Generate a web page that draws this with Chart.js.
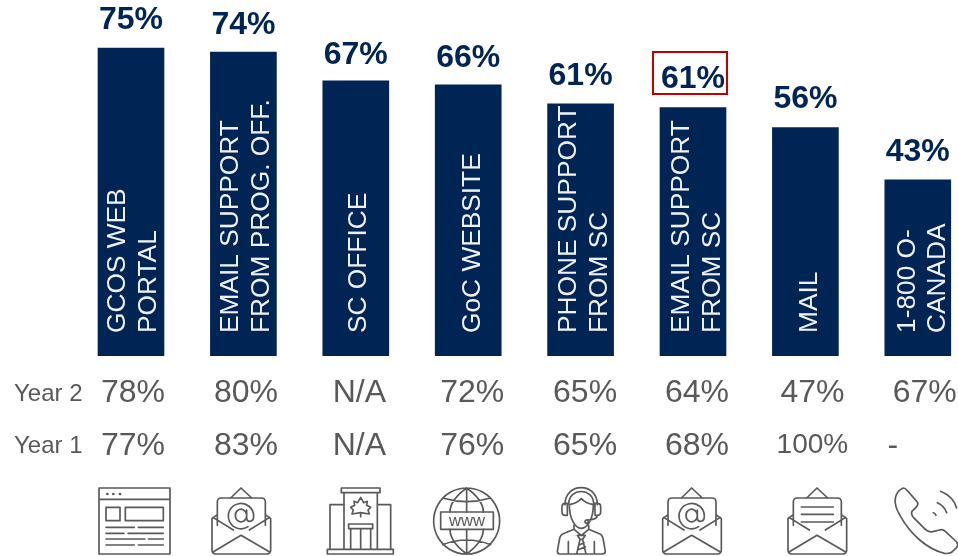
<!DOCTYPE html>
<html lang="en">
<head>
  <meta charset="UTF-8">
  <title>Satisfaction by service channel</title>
  <script src="https://cdn.jsdelivr.net/npm/chart.js"></script>
  <style>
    html, body { margin: 0; padding: 0; background: #fff; overflow: hidden; width: 958px; height: 556px; }
    canvas { display: block; }
  </style>
</head>
<body>
<canvas id="myChart" width="1000" height="556"></canvas>

<script>
const categories = [
  ['GCOS WEB', 'PORTAL'],
  ['EMAIL SUPPORT', 'FROM PROG. OFF.'],
  ['SC OFFICE'],
  ['GoC WEBSITE'],
  ['PHONE SUPPORT', 'FROM SC'],
  ['EMAIL SUPPORT', 'FROM SC'],
  ['MAIL'],
  ['1-800 O-', 'CANADA']
];
const year3Values = [75, 74, 67, 66, 61.4, 60.5, 55.6, 42.9];
const year3Labels = ['75%', '74%', '67%', '66%', '61%', '61%', '56%', '43%'];
const year2Labels = ['78%', '80%', 'N/A', '72%', '65%', '64%', '47%', '67%'];
const year1Labels = ['77%', '83%', 'N/A', '76%', '65%', '68%', '100%', '-'];
const rowNames = ['Year 2', 'Year 1'];

const NAVY = '#002554';
const GREY = '#595959';
const FONT = '"Liberation Sans", Arial, sans-serif';

// icons are traced in 3x units, so they get drawn with a 1/3 scale
const envelope = 'M56 30 L87 0 L119 30 M16 80 L0 92 L0 186 Q0 198 12 198 L164 198 Q176 198 176 186 L176 92 L160 80 ' +
  'M16 112 L16 42 Q16 30 28 30 L148 30 Q160 30 160 42 L160 112 M3 88 L64 126 M173 88 L112 126 ' +
  'M3 192 L87 142 L173 192';
const atSign = 'M108 116 A38 38 0 1 1 125 84 Q125 100 113 100 Q104 100 104 90 L104 66 ' +
  'M104 81 A17 19 0 1 1 103.9 80';
const browser = 'M297 54 H510 V252 H297 Z M297 88 H510 M318 112 H360 V152 H318 Z M376 112 H490 V152 H376 Z ' +
  'M318 172 H403 M415 172 H490 M318 190 H372 M384 190 H490 M318 207 H435 M445 207 H490 M318 225 H403 M415 225 H490';
const building = 'M982 238 H1180 V252 H982 Z M1024 54 H1140 V68 H1024 Z M1032 68 V238 M1132 68 V238 ' +
  'M1032 104 H990 V238 M1132 104 H1172 V238 M1046 162 H1118 V176 H1046 Z M1052 176 V238 M1082 176 V238 M1112 176 V238 ' +
  'M1082 140 V128 L1056 132 L1060 120 L1052 112 L1064 106 L1062 94 L1073 98 L1082 82 L1091 98 L1102 94 L1100 106 L1112 112 L1104 120 L1108 132 L1082 128';
const globe = 'M1400 54 A99 99 0 1 1 1399.9 54 M1400 54 V126 M1400 178 V252 M1400 54 Q1350 90 1350 126 M1400 54 Q1450 90 1450 126 ' +
  'M1350 178 Q1350 216 1400 252 M1450 178 Q1450 216 1400 252 M1328 84 Q1400 106 1472 84 M1328 224 Q1400 196 1472 224';
const globeBox = [1322, 126, 158, 52];
const agent = 'M255 104 C255 36 352 36 352 104 M266 102 C266 52 341 52 341 102 M246 110 Q246 100 256 100 L262 100 L262 136 L256 136 Q246 136 246 126 Z ' +
  'M345 100 L352 100 Q362 100 362 110 L362 126 Q362 136 352 136 L345 136 Z M268 104 C280 102 295 96 304 86 C313 96 328 102 340 104 ' +
  'M268 104 C268 145 285 175 304 175 C323 175 340 145 340 104 M352 136 Q352 150 320 150 M320 150 A5 5 0 1 1 319.9 150 ' +
  'M282 166 L282 178 L304 196 L326 178 L326 166 M282 178 L248 192 Q240 196 238 210 L232 244 Q232 252 240 252 L368 252 Q376 252 376 244 L370 210 Q368 196 360 192 L326 178 ' +
  'M265 215 V252 M343 215 V252 M292 196 L316 196 L308 208 L300 208 Z M300 208 L290 252 M308 208 L318 252 M296 226 L312 218 M293 240 L316 230';
const letterLines = 'M964 111 H1060 M964 133 H1060 M964 156 H1060';
const phone = 'M1246 84 Q1250 62 1270 54 Q1276 54 1282 62 L1312 96 Q1316 102 1310 110 L1296 124 Q1292 132 1300 142 L1330 172 Q1346 190 1362 184 L1378 180 Q1388 176 1396 184 L1430 216 Q1436 224 1430 232 L1416 246 ' +
  'Q1408 252 1394 250 C1340 238 1290 190 1262 140 Q1242 108 1246 84 Z ' +
  'M1360 128 Q1366 130 1368 136 M1372 98 Q1394 108 1400 128 M1382 64 Q1420 80 1430 114';

const drawExtras = {
  id: 'drawExtras',
  afterDatasetsDraw(chart) {
    const ctx = chart.ctx;
    const bars = chart.getDatasetMeta(0).data;
    const xs = chart.scales.x;
    const labelRise = [18.5, 18.5, 16.5, 17.5, 19, 19.5, 19.5, 19];
    const rowShift = [2, 2.6, 3.5, 4, 4.5, 4, 7, 7];
    const line1Base = [-6, -5, 10.5, 11.5, -4.5, -4.5, 12, -3];
    const line2Base = [25, 25.5, 0, 0, 26.5, 26.5, 0, 27.5];

    ctx.save();
    bars.forEach((bar, i) => {
      const cx = xs.getPixelForValue(i);

      // value above the bar
      ctx.font = 'bold 32px ' + FONT;
      ctx.fillStyle = NAVY;
      ctx.textAlign = 'center';
      ctx.textBaseline = 'alphabetic';
      ctx.fillText(year3Labels[i], cx, bar.y - labelRise[i]);

      // name inside the bar, reading upward
      const lines = categories[i];
      ctx.save();
      ctx.translate(cx, 333);
      ctx.rotate(-Math.PI / 2);
      ctx.font = '26.3px ' + FONT;
      ctx.fillStyle = '#eef1f5';
      ctx.textAlign = 'left';
      lines.forEach((line, n) => {
        ctx.fillText(line, 0, n === 0 ? line1Base[i] : line2Base[i]);
      });
      ctx.restore();

      // earlier years under the bar
      ctx.fillStyle = GREY;
      ctx.textAlign = 'center';
      ctx.font = '32px ' + FONT;
      ctx.fillText(year2Labels[i], cx + rowShift[i], 402);
      if (year1Labels[i].length > 3) {
        ctx.font = '28px ' + FONT;
        ctx.fillText(year1Labels[i], cx + rowShift[i], 453);
      } else if (year1Labels[i] === '-') {
        ctx.fillText(year1Labels[i], cx - 25, 454.5);
      } else {
        ctx.fillText(year1Labels[i], cx + rowShift[i], 454.5);
      }
    });

    // row names
    ctx.fillStyle = GREY;
    ctx.textAlign = 'left';
    ctx.font = '24px ' + FONT;
    ctx.fillText(rowNames[0], 14, 400.5);
    ctx.fillText(rowNames[1], 14, 452.5);

    // red box on the email figure
    const boxX = xs.getPixelForValue(5);
    ctx.strokeStyle = '#C00000';
    ctx.lineWidth = 2;
    ctx.strokeRect(boxX - 40, 52, 74, 42);

    // icon row
    ctx.strokeStyle = GREY;
    ctx.lineWidth = 5;
    ctx.lineJoin = 'round';
    ctx.lineCap = 'round';
    ctx.scale(1 / 3, 1 / 3);
    ctx.translate(0, 1410);
    const mark = (d, ox, oy) => {
      ctx.save();
      ctx.translate(ox, oy);
      ctx.stroke(new Path2D(d));
      ctx.restore();
    };
    mark(browser, 0, 0);
    ctx.fillStyle = GREY;
    [322, 340, 360].forEach(x => {
      ctx.beginPath();
      ctx.arc(x, 72, 4, 0, Math.PI * 2);
      ctx.fill();
    });
    mark(envelope, 636, 54);
    mark(atSign, 636, 54);
    mark(building, 0, 0);
    mark(globe, 0, 0);
    ctx.strokeRect(globeBox[0], globeBox[1], globeBox[2], globeBox[3]);
    ctx.font = '50px ' + FONT;
    ctx.textAlign = 'center';
    ctx.fillText('www', globeBox[0] + globeBox[2] / 2, 168);
    mark(agent, 1440, 0);
    mark(envelope, 1440 + 548, 54);
    mark(atSign, 1440 + 548, 54);
    mark(envelope, 1440 + 924, 54);
    mark(letterLines, 1440, 0);
    mark(phone, 1440, 0);
    ctx.restore();
  }
};

const ctx = document.getElementById('myChart').getContext('2d');
new Chart(ctx, {
  type: 'bar',
  data: {
    labels: categories,
    datasets: [{
      label: 'Year 3',
      data: year3Values,
      backgroundColor: NAVY,
      barThickness: 66
    }]
  },
  options: {
    responsive: false,
    animation: false,
    layout: { padding: { left: 74.8, right: 26, top: 0, bottom: 200 } },
    scales: {
      x: { display: false },
      y: { display: false, min: 0, max: 86.68 }
    },
    plugins: { legend: { display: false }, tooltip: { enabled: false } }
  },
  plugins: [drawExtras]
});
</script>
</body>
</html>
